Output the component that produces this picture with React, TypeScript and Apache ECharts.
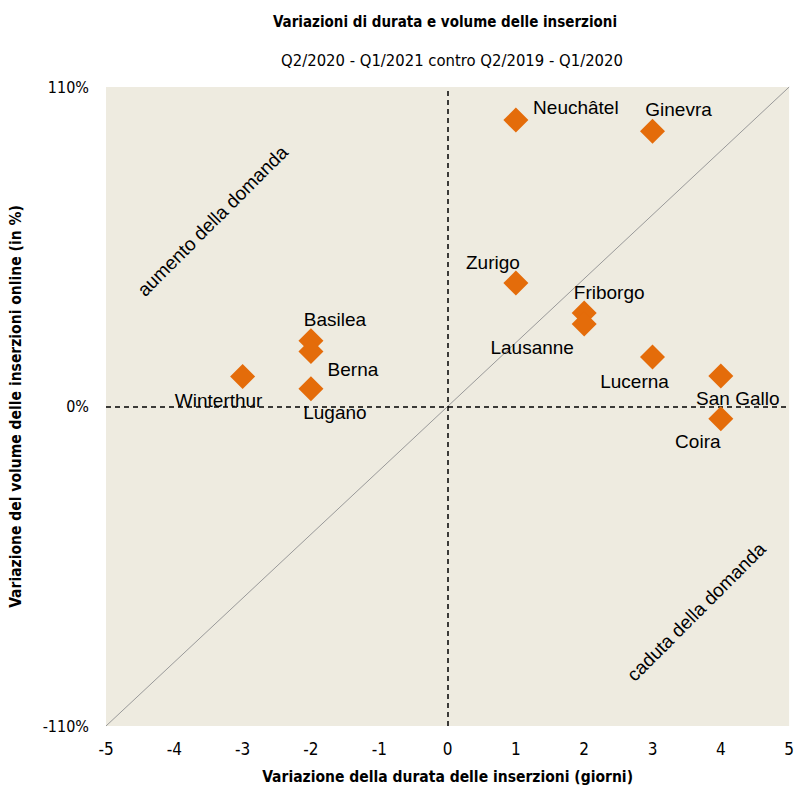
import React, { useEffect, useRef } from "react";
import * as echarts from "echarts";

const cities = ["Neuchâtel", "Ginevra", "Zurigo", "Friborgo", "Lausanne", "Lucerna", "San Gallo", "Coira", "Basilea", "Berna", "Lugano", "Winterthur"];
const durationChange = [1, 3, 1, 2, 2, 3, 4, 4, -2, -2, -2, -3];
const volumeChange = [98.6, 94.8, 42.5, 32.2, 28.4, 17, 10.5, -4.2, 22.6, 18.9, 6.1, 10.3];
const labelOffsets: number[][] = [[60, -13], [26, -22], [-23, -21], [25, -20], [-52, 23], [-18, 24], [17, 22], [-23, 23], [24, -21], [42, 18], [24, 24], [-24, 24]];
const xTicks = [-5, 5, 1];
const yTicks = [-110, 110, 110];

const NARROW = "'Liberation Sans Narrow', 'DejaVu Sans Condensed', 'Liberation Sans', sans-serif";
const ARIAL = "'Liberation Sans', Arial, sans-serif";

export default function App() {
  const ref = useRef<HTMLDivElement>(null);
  useEffect(() => {
    if (!ref.current) return;
    const chart = echarts.init(ref.current, null, { renderer: "svg" });
    const data = cities.map((c, i) => ({
      name: c,
      value: [durationChange[i], volumeChange[i]],
      label: { offset: labelOffsets[i] },
    }));
    chart.setOption({
      animation: false,
      backgroundColor: "#ffffff",
      title: [
        { text: "Variazioni di durata e volume delle inserzioni", left: 440, top: 9, textAlign: "center", textStyle: { fontFamily: NARROW, fontSize: 15, fontWeight: "bold", color: "#000" } },
        { text: "Q2/2020 - Q1/2021 contro Q2/2019 - Q1/2020", left: 447, top: 47, textAlign: "center", textStyle: { fontFamily: NARROW, fontSize: 16.5, fontWeight: "normal", color: "#000" } },
      ],
      grid: { left: 106, right: 7, top: 87, bottom: 66, show: true, backgroundColor: "#EEEBE0", borderWidth: 0 },
      xAxis: {
        type: "value", min: xTicks[0], max: xTicks[1], interval: xTicks[2],
        name: "Variazione della durata delle inserzioni (giorni)", nameLocation: "middle", nameGap: 43,
        nameTextStyle: { fontFamily: NARROW, fontSize: 15.5, fontWeight: "bold", color: "#000" },
        axisLine: { show: false }, axisTick: { show: false }, splitLine: { show: false },
        axisLabel: { fontFamily: NARROW, fontSize: 17, color: "#000", margin: 14 },
      },
      yAxis: {
        type: "value", min: yTicks[0], max: yTicks[1], interval: yTicks[2],
        name: "Variazione del volume delle inserzioni online (in %)", nameLocation: "middle", nameGap: 82,
        nameTextStyle: { fontFamily: NARROW, fontSize: 15.5, fontWeight: "bold", color: "#000" },
        axisLine: { show: false }, axisTick: { show: false }, splitLine: { show: false },
        axisLabel: { fontFamily: NARROW, fontSize: 16, color: "#000", margin: 17, formatter: "{value}%" },
      },
      series: [
        {
          type: "scatter",
          symbol: "diamond",
          symbolSize: 25,
          itemStyle: { color: "#E46C0A", opacity: 1 },
          label: { show: true, position: "inside", formatter: "{b}", fontFamily: ARIAL, fontSize: 19, color: "#000" },
          data,
          z: 5,
          markLine: {
            silent: true,
            symbol: "none",
            label: { show: false },
            data: [
              [{ coord: [xTicks[0], yTicks[0]], lineStyle: { color: "#999", width: 1, type: "solid" } }, { coord: [xTicks[1], yTicks[1]] }],
              { xAxis: 0, lineStyle: { color: "#000", width: 1.5, type: [5, 4] } },
              { yAxis: 0, lineStyle: { color: "#000", width: 1.5, type: [5, 4] } },
            ],
          },
        },
      ],
    });
    const p1 = chart.convertToPixel({ gridIndex: 0 }, [-3.44, 63.9]) as number[];
    const p2 = chart.convertToPixel({ gridIndex: 0 }, [3.64, -70.7]) as number[];
    chart.setOption({
      graphic: [
        { type: "text", x: p1[0], y: p1[1], rotation: Math.PI / 4, style: { text: "aumento della domanda", font: `19px ${ARIAL}`, fill: "#000", align: "center", verticalAlign: "middle" } },
        { type: "text", x: p2[0], y: p2[1], rotation: Math.PI / 4, style: { text: "caduta della domanda", font: `19px ${ARIAL}`, fill: "#000", align: "center", verticalAlign: "middle" } },
      ],
    });
    return () => chart.dispose();
  }, []);
  return <div ref={ref} style={{ position: "fixed", left: 0, top: 0, width: 797, height: 792 }} />;
}
